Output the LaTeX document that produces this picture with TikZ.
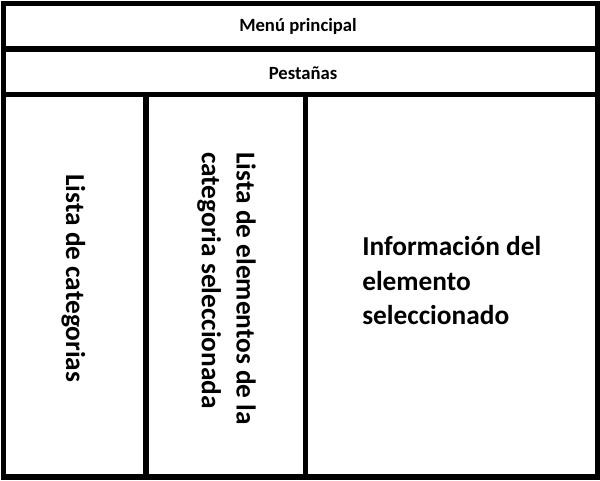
\documentclass[tikz,border=0pt]{standalone}
\usepackage{fontspec}
\setmainfont{Carlito}
\usetikzlibrary{positioning} % For easy node-relative placements
\tikzstyle{frame} = [draw=black, line width=4.125pt]
\tikzstyle{bar_text} = [inner sep=0pt, font=\bfseries\fontsize{14}{17}\selectfont]
\tikzstyle{panel_text} = [inner sep=0pt, align=left, font=\bfseries\fontsize{20.5}{26}\selectfont]

\begin{document}
\begin{tikzpicture}[x=0.75pt, y=-0.75pt]
  \useasboundingbox (0,0) rectangle (600,480);
  \coordinate (tl) at (3.5,3.5);
  \coordinate (br) at (597.5,477);
  \draw [frame] (tl) rectangle (br);
  \draw [frame] (3.5,49) -- (597.5,49);
  \draw [frame] (3.5,94.5) -- (597.5,94.5);
  \draw [frame] (146,94.5) -- (146,477);
  \draw [frame] (305.5,94.5) -- (305.5,477);

  \node (menu) [bar_text, anchor=base] at (298,31) {Menú principal};
  \node (tabs) [bar_text, anchor=base] at (303,79) {Pestañas};
  \node (cats) [panel_text, rotate=-90, anchor=base west] at (66,174) {Lista de categorias};
  \node (items) [panel_text, rotate=-90, anchor=north west] at (256,152) {Lista de elementos de la\\categoria seleccionada};
  \node (info) [panel_text, anchor=north west] at (362,236) {Información del\\elemento\\seleccionado};
\end{tikzpicture}
\end{document}
